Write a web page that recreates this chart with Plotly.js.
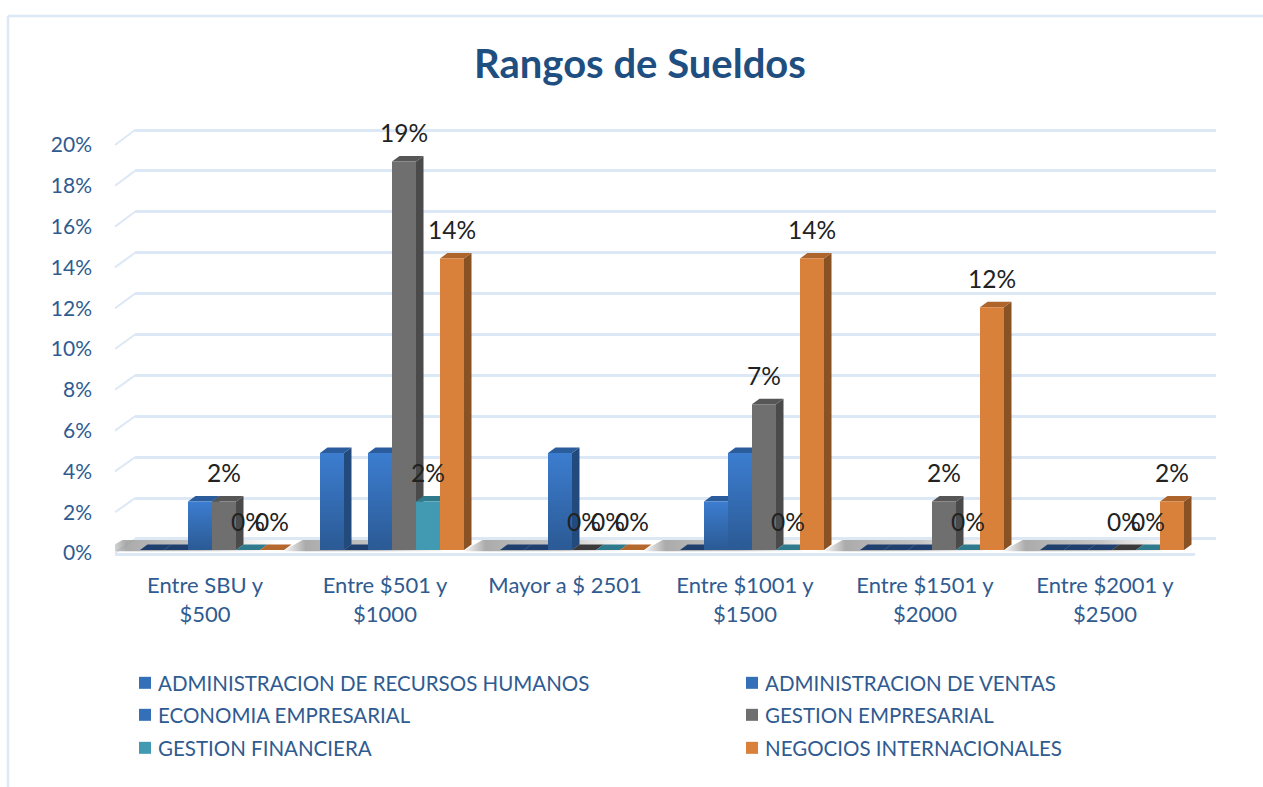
<!DOCTYPE html>
<html>
<head>
<meta charset="utf-8">
<script src="https://cdn.plot.ly/plotly-3.0.1.min.js"></script>
<style>
html,body{margin:0;padding:0;background:#fff;overflow:hidden}
.traces text[class^="legend"]{transform:translateX(-7px)}
.legend .legendbar,.legend2 .legendbar,.legend3 .legendbar{fill:url(#blueFront)!important}
</style>
</head>
<body>
<svg width="0" height="0" style="position:absolute"><defs><linearGradient id="blueFront" x1="0" x2="0" y1="0" y2="1"><stop offset="0" stop-color="#3c7dd0"/><stop offset="1" stop-color="#2b5a94"/></linearGradient></defs></svg>
<div id="chart" style="width:1263px;height:787px"></div>
<script>
const categories = ["Entre SBU y<br>$500", "Entre $501 y<br>$1000", "Mayor a $ 2501", "Entre $1001 y<br>$1500", "Entre $1501 y<br>$2000", "Entre $2001 y<br>$2500"];
const administracionRRHH = [0, 4.76, 0, 0, 0, 0];
const administracionVentas = [0, 0, 0, 2.38, 0, 0];
const economiaEmpresarial = [2.38, 4.76, 4.76, 4.76, 0, 0];
const gestionEmpresarial = [2.38, 19.05, 0, 7.14, 2.38, 0];
const gestionFinanciera = [0, 2.38, 0, 0, 0, 0];
const negociosInternacionales = [0, 14.29, 0, 14.29, 11.9, 2.38];
const seriesNames = ["ADMINISTRACION DE RECURSOS HUMANOS", "ADMINISTRACION DE VENTAS", "ECONOMIA EMPRESARIAL", "GESTION EMPRESARIAL", "GESTION FINANCIERA", "NEGOCIOS INTERNACIONALES"];
const seriesValues = [administracionRRHH, administracionVentas, economiaEmpresarial, gestionEmpresarial, gestionFinanciera, negociosInternacionales];
const frontColors = ["#3470b8", "#3470b8", "#3470b8", "#6f6f6f", "#4299b2", "#d9803a"];
const topColors = ["#2b5d9c", "#2b5d9c", "#2b5d9c", "#565656", "#2f7a8c", "#ad652c"];
const sideColors = ["#234a7c", "#234a7c", "#234a7c", "#4a4a4a", "#2f7a8c", "#885224"];
const zeroColors = ["#1f3f6e", "#1f3f6e", "#1f3f6e", "#3a3a3a", "#2f7a8c", "#b5682e"];
const labelledSeries = [3, 4, 5];
const legendPos = [[125, 683], [732, 683], [125, 715], [732, 715], [125, 748], [732, 748]];

const W = 1263, H = 787;
const textBlue = "#2f5b90", gridBlue = "#dde8f6";
const font = "Lato, Carlito, sans-serif";
const px = v => v / W, py = v => 1 - v / H;
const slot = 0.8 / 6;
const depthX = 7.5 / 180, depthY = 5.5 / 20.4;
const catIdx = categories.map((_, i) => i);
const ticks = [0, 2, 4, 6, 8, 10, 12, 14, 16, 18, 20];

const traces = [];
// floor shadows, drawn in their own strip under the bars
catIdx.forEach(i => {
  const a = i - 0.5 - 0.07, b = a + 0.88, skew = 20 / 180;
  traces.push({
    type: "scatter", mode: "none", xaxis: "x2", yaxis: "y2", showlegend: false, hoverinfo: "skip",
    x: [a, a + skew, b + skew, b, a], y: [0, 1, 1, 0, 0], fill: "toself",
    fillgradient: {type: "horizontal", colorscale: [[0, "rgba(150,150,150,0)"], [0.13, "rgba(150,150,150,0.8)"], [0.55, "rgba(165,165,165,0.65)"], [1, "rgba(200,200,200,0)"]]}
  });
});
seriesNames.forEach((name, k) => {
  traces.push({
    type: "bar", name, x: catIdx, y: seriesValues[k], xaxis: "x3", yaxis: "y3",
    marker: {color: frontColors[k], line: {width: 0}},
    legend: k === 0 ? "legend" : "legend" + (k + 1),
    hovertemplate: name + ": %{y}%<extra></extra>"
  });
});
// invisible traces keep the wall and the front axes alive
traces.push({type: "scatter", mode: "none", x: [null], y: [null], xaxis: "x", yaxis: "y", showlegend: false, hoverinfo: "skip"});
traces.push({type: "scatter", mode: "none", x: [null], y: [null], xaxis: "x4", yaxis: "y4", showlegend: false, hoverinfo: "skip"});

const shapes = [
  {type: "line", xref: "paper", yref: "paper", x0: px(8), x1: px(8), y0: py(16), y1: py(787), line: {color: gridBlue, width: 2.5}, layer: "below"},
  {type: "line", xref: "paper", yref: "paper", x0: px(8), x1: px(1263), y0: py(16), y1: py(16), line: {color: gridBlue, width: 2.5}, layer: "below"}
];
ticks.forEach(t => shapes.push({
  type: "line", xref: "paper", yref: "paper", layer: "below",
  x0: px(115), x1: px(135), y0: py(553 - t * 20.4), y1: py(539 - t * 20.45),
  line: {color: gridBlue, width: 2}
}));
// extruded faces of the bars, painted left to right
catIdx.forEach(i => seriesValues.forEach((vals, k) => {
  const v = vals[i], x0 = i + (k - 3) * slot, x1 = x0 + slot;
  const face = (pts, color) => shapes.push({
    type: "path", xref: "x3", yref: "y3", layer: "between", fillcolor: color, line: {width: 0},
    path: "M" + pts.map(p => p[0] + "," + p[1]).join("L") + "Z"
  });
  if (v > 0) face([[x1, 0], [x1 + depthX, depthY], [x1 + depthX, v + depthY], [x1, v]], sideColors[k]);
  face([[x0, v], [x0 + depthX, v + depthY], [x1 + depthX, v + depthY], [x1, v]], v > 0 ? topColors[k] : zeroColors[k]);
}));

const annotations = [];
labelledSeries.forEach(k => catIdx.forEach(i => annotations.push({
  xref: "x3", yref: "y3", x: i + (k - 2.5) * slot, y: seriesValues[k][i], yshift: 29,
  text: Math.round(seriesValues[k][i]) + "%", showarrow: false, xanchor: "center", yanchor: "middle",
  font: {family: font, size: 24.5, color: "#222222"}
})));

const layout = {
  width: W, height: H, margin: {l: 0, r: 0, t: 0, b: 0, pad: 0},
  paper_bgcolor: "#ffffff", plot_bgcolor: "rgba(0,0,0,0)", hovermode: false,
  barmode: "group", bargap: 0.2, bargroupgap: 0,
  title: {text: "<b>Rangos de Sueldos</b>", x: 640 / W, xanchor: "center", y: py(64), yanchor: "middle", font: {family: font, size: 40, color: "#1f4e80"}},
  // back wall
  xaxis: {domain: [px(135), px(1216)], range: [0, 1], visible: false, anchor: "y", fixedrange: true},
  yaxis: {domain: [py(540), py(129)], range: [-0.05, 20.05], anchor: "x", tick0: 0, dtick: 2, showgrid: true, gridcolor: gridBlue, gridwidth: 2.5, zeroline: false, showticklabels: false, ticks: "", fixedrange: true},
  // floor
  xaxis2: {domain: [px(115), px(1216)], range: [-0.5, -0.5 + 1101 / 180], visible: false, anchor: "y2", fixedrange: true},
  yaxis2: {domain: [py(551.5), py(540)], range: [0, 1], visible: false, anchor: "x2", fixedrange: true},
  // bars
  xaxis3: {domain: [px(122), px(1202)], range: [-0.5, 5.5], visible: false, anchor: "y3", fixedrange: true},
  yaxis3: {domain: [py(550), py(142)], range: [0, 20], visible: false, anchor: "x3", fixedrange: true},
  // front edge that carries the labels
  xaxis4: {domain: [px(115), px(1195)], range: [-0.5, 5.5], anchor: "y4", tickmode: "array", tickvals: catIdx, ticktext: categories, showgrid: false, zeroline: false, showline: true, linecolor: gridBlue, linewidth: 2.5, ticks: "", ticklabelstandoff: 11, tickangle: 0, tickfont: {family: font, size: 22, color: textBlue}, fixedrange: true},
  yaxis4: {domain: [py(553), py(145)], range: [0, 20], anchor: "x4", tick0: 0, dtick: 2, ticksuffix: "%", showgrid: false, zeroline: false, showline: false, ticks: "", ticklabelstandoff: 22, tickfont: {family: font, size: 21, color: textBlue}, fixedrange: true},
  shapes, annotations
};
seriesNames.forEach((_, k) => {
  layout[k === 0 ? "legend" : "legend" + (k + 1)] = {
    x: px(legendPos[k][0]), y: py(legendPos[k][1]), xanchor: "left", yanchor: "middle",
    bgcolor: "rgba(0,0,0,0)", borderwidth: 0, font: {family: font, size: 20.5, color: textBlue}
  };
});

Plotly.newPlot("chart", traces, layout, {displayModeBar: false}).then(gd => {
  gd.querySelectorAll(".barlayer .trace").forEach((t, k) => {
    if (k < 3) t.querySelectorAll("path").forEach(p => { p.style.fill = "url(#blueFront)"; });
  });
});
</script>
</body>
</html>
